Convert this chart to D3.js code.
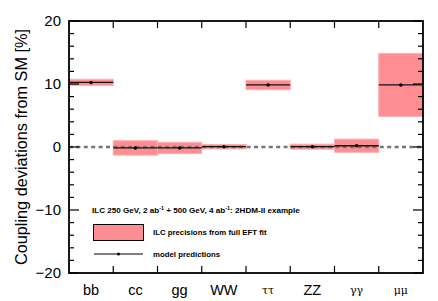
<!DOCTYPE html>
<html>
<head>
<meta charset="utf-8">
<script src="https://cdn.jsdelivr.net/npm/d3@7"></script>
<style>
  body { margin: 0; background: #fff; }
  svg { display: block; font-family: "Liberation Sans", Arial, sans-serif; }
</style>
</head>
<body>
<div id="chart"></div>
<script>
const width = 438,
      height = 301,
      margin = ({ top: 21, right: 15, bottom: 28, left: 69 });

// data
const channels = ["bb", "cc", "gg", "WW", "ττ", "ZZ", "γγ", "μμ"];
const greek = ["ττ", "γγ", "μμ"];
const modelValues = [10.25, -0.15, -0.15, 0.05, 9.85, 0.05, 0.2, 9.85];
const ilcErrors = [0.5, 1.15, 0.9, 0.35, 0.75, 0.4, 1.05, 5.0];
const yMajor = [-20, -10, 0, 10, 20];
const yMinor = [-18, -16, -14, -12, -8, -6, -4, -2, 2, 4, 6, 8, 12, 14, 16, 18];

const svg = d3.select("#chart")
    .append("svg")
    .attr("width", width)
    .attr("height", height);

let x = d3.scaleBand()
    .domain(channels)
    .range([margin.left, width - margin.right])
    .padding(0);

let y = d3.scaleLinear()
    .domain([-20, 20])
    .range([height - margin.bottom, margin.top]);

const x0 = margin.left, x1 = width - margin.right,
      y0 = height - margin.bottom, y1 = margin.top;

const data = channels.map((c, i) => ({ c, v: modelValues[i], e: ilcErrors[i] }));

// error bands
svg.selectAll(".band")
    .data(data)
    .join("rect")
    .attr("class", "band")
    .attr("x", d => x(d.c))
    .attr("width", x.bandwidth())
    .attr("y", d => y(d.v + d.e))
    .attr("height", d => y(d.v - d.e) - y(d.v + d.e))
    .attr("fill", "#ff8e92")
    .attr("stroke", "#ffb0b3")
    .attr("stroke-width", 1);

// SM line
svg.append("line")
    .attr("x1", x0).attr("x2", x1)
    .attr("y1", y(0)).attr("y2", y(0))
    .attr("stroke", "#777")
    .attr("stroke-width", 2.5)
    .attr("stroke-dasharray", "4,3.4");

// model predictions
svg.selectAll(".pred")
    .data(data)
    .join("line")
    .attr("class", "pred")
    .attr("x1", d => x(d.c))
    .attr("x2", d => x(d.c) + x.bandwidth())
    .attr("y1", d => y(d.v))
    .attr("y2", d => y(d.v))
    .attr("stroke", "#111")
    .attr("stroke-width", 1.3);

svg.selectAll(".dot")
    .data(data)
    .join("circle")
    .attr("class", "dot")
    .attr("cx", d => x(d.c) + x.bandwidth() / 2)
    .attr("cy", d => y(d.v))
    .attr("r", 1.8)
    .attr("fill", "#000");

// axes: ticks point inward on all four sides
const ax = svg.append("g").attr("stroke", "#000").attr("stroke-width", 1.2);
yMajor.forEach(v => {
    ax.append("line").attr("x1", x0).attr("x2", x0 + 10).attr("y1", y(v)).attr("y2", y(v));
    ax.append("line").attr("x1", x1).attr("x2", x1 - 10).attr("y1", y(v)).attr("y2", y(v));
});
yMinor.forEach(v => {
    ax.append("line").attr("x1", x0).attr("x2", x0 + 5).attr("y1", y(v)).attr("y2", y(v));
    ax.append("line").attr("x1", x1).attr("x2", x1 - 5).attr("y1", y(v)).attr("y2", y(v));
});
channels.slice(1).forEach(c => {
    ax.append("line").attr("x1", x(c)).attr("x2", x(c)).attr("y1", y0).attr("y2", y0 - 7);
    ax.append("line").attr("x1", x(c)).attr("x2", x(c)).attr("y1", y1).attr("y2", y1 + 7);
});

svg.append("rect")
    .attr("x", x0).attr("y", y1)
    .attr("width", x1 - x0).attr("height", y0 - y1)
    .attr("fill", "none")
    .attr("stroke", "#000")
    .attr("stroke-width", 1.8);

// tick labels
svg.selectAll(".ylab")
    .data(yMajor)
    .join("text")
    .attr("x", 61)
    .attr("y", d => y(d) + 5)
    .attr("text-anchor", "end")
    .attr("font-size", 15)
    .text(d => d < 0 ? "\u2212" + Math.abs(d) : d);

svg.selectAll(".xlab")
    .data(channels)
    .join("text")
    .attr("x", d => x(d) + x.bandwidth() / 2)
    .attr("y", d => greek.includes(d) ? 294 : 295)
    .attr("text-anchor", "middle")
    .attr("font-size", d => greek.includes(d) ? 11 : 14.5)
    .attr("font-family", d => greek.includes(d) ? "DejaVu Serif, serif" : null)
    .text(d => d);

svg.append("text")
    .attr("transform", `translate(27, ${(y0 + y1) / 2}) rotate(-90)`)
    .attr("text-anchor", "middle")
    .attr("font-size", 16.3)
    .text("Coupling deviations from SM [%]");

// legend
const leg = svg.append("g").attr("font-weight", "bold").attr("font-size", 7.8);
const title = leg.append("text").attr("x", 92).attr("y", 213).attr("font-size", 8.1);
title.append("tspan").text("ILC 250 GeV, 2 ab");
title.append("tspan").attr("font-size", 5.5).attr("dy", -3).text("-1");
title.append("tspan").attr("dy", 3).text(" + 500 GeV, 4 ab");
title.append("tspan").attr("font-size", 5.5).attr("dy", -3).text("-1");
title.append("tspan").attr("dy", 3).text(": 2HDM-II example");

leg.append("rect")
    .attr("x", 93.5).attr("y", 224.5).attr("width", 50).attr("height", 16)
    .attr("fill", "#ff8e92").attr("stroke", "#000").attr("stroke-width", 1);
leg.append("text").attr("x", 153).attr("y", 235).text("ILC precisions from full EFT fit");

leg.append("line")
    .attr("x1", 94).attr("x2", 143).attr("y1", 254).attr("y2", 254)
    .attr("stroke", "#000").attr("stroke-width", 1.1);
leg.append("circle").attr("cx", 118.5).attr("cy", 254).attr("r", 1.5).attr("fill", "#000");
leg.append("text").attr("x", 153).attr("y", 256.5).text("model predictions");
</script>
</body>
</html>
